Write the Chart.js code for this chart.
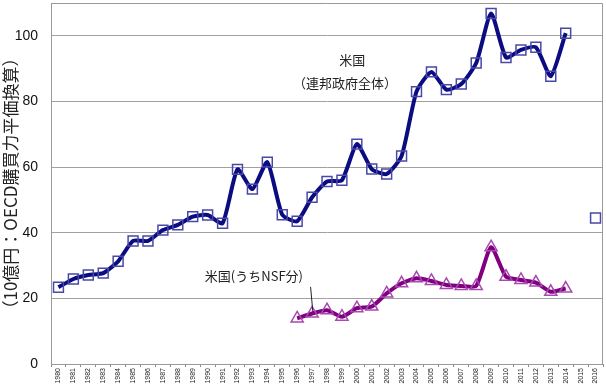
<!DOCTYPE html>
<html>
<head>
<meta charset="utf-8">
<script src="https://cdn.jsdelivr.net/npm/chart.js@4/dist/chart.umd.min.js"></script>
<style>
html,body{margin:0;padding:0;background:#fff;}
#wrap{width:606px;height:386px;position:relative;}
</style>
</head>
<body>
<div id="wrap"><canvas id="c"></canvas></div>
<script>
const years = ['1980','1981','1982','1983','1984','1985','1986','1987','1988','1989','1990','1991','1992','1993','1994','1995','1996','1997','1998','1999','2000','2001','2002','2003','2004','2005','2006','2007','2008','2009','2010','2011','2012','2013','2014','2015','2016'];
const usFederal = [23.4,25.9,27.1,27.7,31.3,37.5,37.5,40.8,42.4,44.9,45.4,42.9,59.3,53.3,61.5,45.5,43.5,50.8,55.6,56.0,67.0,59.4,57.9,63.4,83.0,89.0,83.6,85.3,91.7,106.8,93.4,95.7,96.5,87.7,100.8,null,44.5];
const usNSF = [null,null,null,null,null,null,null,null,null,null,null,null,null,null,null,null,13.9,15.4,16.4,14.4,17.0,17.5,21.5,24.6,26.1,25.3,24.1,23.8,23.8,35.6,26.6,25.6,24.8,22.0,23.0,null,null];
const yTicks = [0,20,40,60,80,100];
const yTitle = '（10億円：OECD購買力平価換算）';
const labelFederal = ['米国','（連邦政府全体）'];
const labelNSF = '米国(うちNSF分)';

const annot = {
  id:'annot',
  afterDatasetsDraw(chart){
    const ctx = chart.ctx, x = chart.scales.x, y = chart.scales.y, a = chart.chartArea;
    ctx.save();
    ctx.strokeStyle = '#999';
    ctx.lineWidth = 1;
    ctx.beginPath();
    ctx.moveTo(a.left, a.top + 0.5); ctx.lineTo(a.right - 0.5, a.top + 0.5); ctx.lineTo(a.right - 0.5, a.bottom);
    ctx.stroke();
    ctx.fillStyle = '#222';
    ctx.font = '13px "Noto Sans CJK JP"';
    ctx.textAlign = 'center'; ctx.textBaseline = 'middle';
    const px = v => x.getPixelForValue(v);
    ctx.fillText(labelFederal[0], px(19.7), y.getPixelForValue(92.7));
    ctx.fillText(labelFederal[1], px(19.2), y.getPixelForValue(85.7));
    ctx.fillText(labelNSF, px(13.1), y.getPixelForValue(26.7));
    ctx.strokeStyle = '#222';
    ctx.beginPath();
    ctx.moveTo(px(16.9), y.getPixelForValue(23.5));
    ctx.lineTo(px(17.05), y.getPixelForValue(16.0));
    ctx.stroke();
    ctx.restore();
  }
};

new Chart(document.getElementById('c'), {
  type:'line',
  data:{
    labels: years,
    datasets:[
      {label:'米国（連邦政府全体）', data: usFederal, borderColor:'#0c0c82', borderWidth:4, tension:0.2,
       pointStyle:'rect', pointRadius:7, pointBorderColor:'#4848a8', pointBackgroundColor:'rgba(0,0,0,0)', pointBorderWidth:1.5, spanGaps:false},
      {label:'米国(うちNSF分)', data: usNSF, borderColor:'#800080', borderWidth:4, tension:0.2,
       pointStyle:'triangle', pointRadius:7, pointBorderColor:'#a848b0', pointBackgroundColor:'rgba(0,0,0,0)', pointBorderWidth:1.5}
    ]
  },
  options:{
    responsive:true, maintainAspectRatio:false, animation:false,
    devicePixelRatio:1,
    layout:{autoPadding:false, padding:{top:3,right:3,left:0,bottom:0}},
    plugins:{legend:{display:false}, tooltip:{enabled:false}},
    scales:{
      x:{
        offset:true,
        grid:{display:true, drawOnChartArea:false, drawTicks:true, tickLength:3, offset:true, color:'#888'},
        border:{display:true, color:'#999', width:1},
        ticks:{autoSkip:false, maxRotation:90, minRotation:90, padding:1, color:'#222', font:{family:'Liberation Sans', size:7}},
        afterFit(s){ s.height = 22; s.paddingLeft = 0; s.paddingRight = 0; s.paddingTop = 0; s.paddingBottom = 0; }
      },
      y:{
        min:0, max:110,
        afterBuildTicks(s){ s.ticks = yTicks.map(v=>({value:v})); },
        grid:{color:'#a0a0a0', borderDash:[1,1], drawTicks:false, lineWidth:1},
        border:{display:true, color:'#999', width:1},
        ticks:{padding:13, color:'#111', font:{family:'Liberation Sans', size:14}},
        title:{display:true, text:yTitle, color:'#222', padding:{top:0,bottom:0}, font:{family:'Noto Sans CJK JP', size:17}},
        afterFit(s){ s.width = 51; s.paddingTop = 0; s.paddingBottom = 0; s.paddingLeft = 0; s.paddingRight = 0; }
      }
    }
  },
  plugins:[annot]
});
</script>
</body>
</html>
